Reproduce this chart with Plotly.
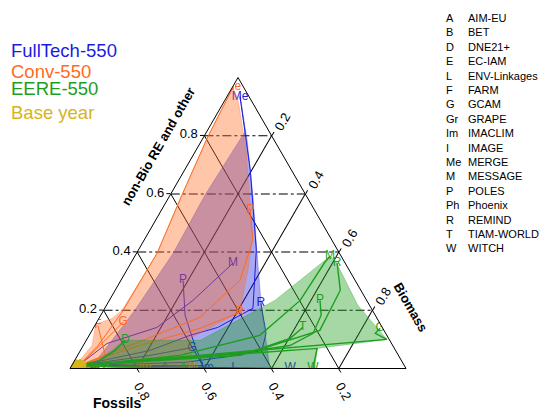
import plotly.graph_objects as go

W_PX, H_PX = 541, 413

BLUE = "#1c1ce0"
ORANGE = "#ff6a1f"
GREEN = "#1e9e1e"
YELLOW = "#d8b41c"

FONT = "Liberation Sans, Arial, sans-serif"

# ---------------------------------------------------------------------------
# Primary energy shares along each pathway: (non-Bio RE and other, biomass);
# the fossil share is the remainder.
# ---------------------------------------------------------------------------
fulltech_paths = {
    "Me": ([0.01, 0.062, 0.114, 0.141, 0.207, 0.407, 0.683, 0.934],
           [0.02, 0.207, 0.300, 0.369, 0.441, 0.351, 0.195, 0.039]),
    "M": ([0.01, 0.086, 0.141, 0.234, 0.362],
          [0.02, 0.067, 0.188, 0.249, 0.304]),
    "P": ([0.01, 0.010, 0.079, 0.183, 0.303],
          [0.02, 0.391, 0.332, 0.251, 0.185]),
    "R": ([0.01, 0.021, 0.041, 0.062, 0.121, 0.224],
          [0.02, 0.332, 0.450, 0.540, 0.523, 0.456]),
    "G": ([0.01, 0.045, 0.072], [0.02, 0.216, 0.327]),
    "D": ([0.01, 0.0], [0.02, 0.092]),
    "A": ([0.01, 0.0], [0.02, 0.283]),
    "Im": ([0.01, 0.0], [0.02, 0.408]),
    "I": ([0.01, 0.0], [0.02, 0.485]),
    "W": ([0.01, 0.0], [0.02, 0.655]),
}
fulltech_area_nonbio = [0.005, 0.034, 0.141, 0.200, 0.397, 0.597, 0.814, 0.938,
                        0.786, 0.593, 0.390, 0.234, 0.121, 0.0]
fulltech_area_biomass = [0.010, 0.066, 0.084, 0.093, 0.109, 0.104, 0.114, 0.037,
                         0.134, 0.248, 0.362, 0.451, 0.520, 0.595]

conv_paths = {
    "Me": ([0.01, 0.079, 0.193, 0.397, 0.597, 0.797, 0.966],
           [0.02, 0.044, 0.058, 0.061, 0.035, 0.012, 0.002]),
    "G": ([0.01, 0.062, 0.159], [0.02, 0.043, 0.079]),
    "F": ([0.01, 0.007, 0.079, 0.148], [0.02, 0.110, 0.058, 0.009]),
    "P": ([0.01, 0.097, 0.176, 0.303, 0.441, 0.545],
          [0.02, 0.169, 0.299, 0.354, 0.324, 0.264]),
    "R": ([0.01, 0.079, 0.138, 0.193], [0.02, 0.168, 0.318, 0.409]),
    "D": ([0.01, 0.0], [0.02, 0.060]),
    "Im": ([0.01, 0.0], [0.02, 0.223]),
    "W": ([0.01, 0.0], [0.02, 0.366]),
}
conv_area_nonbio = [0.005, 0.079, 0.152, 0.172, 0.200, 0.397, 0.597, 0.797, 0.966,
                    0.924, 0.752, 0.545, 0.441, 0.338, 0.252, 0.193, 0.103, 0.0]
conv_area_biomass = [0.010, 0.026, 0.001, 0.039, 0.055, 0.061, 0.035, 0.012, 0.002,
                     0.038, 0.148, 0.264, 0.321, 0.361, 0.389, 0.409, 0.305, 0.366]

eere_paths = {
    "D": ([0.01, 0.028, 0.062, 0.097], [0.02, 0.075, 0.103, 0.116]),
    "M": ([0.01, 0.045, 0.114, 0.234, 0.366, 0.386],
          [0.02, 0.305, 0.508, 0.568, 0.576, 0.581]),
    "R": ([0.01, 0.055, 0.131, 0.269, 0.362],
          [0.02, 0.508, 0.678, 0.670, 0.614]),
    "P": ([0.01, 0.045, 0.079, 0.121, 0.183, 0.234],
          [0.02, 0.424, 0.615, 0.663, 0.656, 0.627]),
    "T": ([0.01, 0.045, 0.103, 0.141], [0.02, 0.484, 0.603, 0.622]),
    "G": ([0.01, 0.100, 0.121, 0.138], [0.02, 0.893, 0.848, 0.854]),
    "A": ([0.01, 0.0], [0.02, 0.336]),
    "W": ([0.01, 0.069, 0.0], [0.02, 0.701, 0.723]),
}
eere_area_nonbio = [0.005, 0.021, 0.062, 0.097, 0.097, 0.234, 0.386, 0.366,
                    0.217, 0.100, 0.069, 0.0]
eere_area_biomass = [0.010, 0.064, 0.094, 0.113, 0.339, 0.493, 0.581, 0.609,
                     0.748, 0.893, 0.701, 0.729]

base_codes = ["A", "B", "D", "E", "L", "F", "G", "Gr", "Im", "I", "Me", "M",
              "P", "Ph", "R", "T", "W"]
base_nonbio = [0.008, 0.010, 0.012, 0.009, 0.011, 0.010, 0.013, 0.008, 0.010,
               0.012, 0.009, 0.011, 0.010, 0.012, 0.009, 0.010, 0.011]
base_biomass = [0.018, 0.022, 0.020, 0.025, 0.017, 0.021, 0.019, 0.023, 0.020,
                0.024, 0.018, 0.022, 0.021, 0.019, 0.023, 0.020, 0.022]

model_codes = ["A", "B", "D", "E", "L", "F", "G", "Gr", "Im", "I", "Me", "M",
               "P", "Ph", "R", "T", "W"]
model_names = ["AIM-EU", "BET", "DNE21+", "EC-IAM", "ENV-Linkages", "FARM",
               "GCAM", "GRAPE", "IMACLIM", "IMAGE", "MERGE", "MESSAGE",
               "POLES", "Phoenix", "REMIND", "TIAM-WORLD", "WITCH"]

scenarios = [
    ("FullTech-550", BLUE, "rgba(28,28,224,0.38)", fulltech_paths,
     fulltech_area_nonbio, fulltech_area_biomass, 1.0),
    ("Conv-550", ORANGE, "rgba(255,106,31,0.38)", conv_paths,
     conv_area_nonbio, conv_area_biomass, 1.0),
    ("EERE-550", GREEN, "rgba(30,158,30,0.40)", eere_paths,
     eere_area_nonbio, eere_area_biomass, 1.4),
]


def fossil(nonbio, biomass):
    return [1.0 - a - c for a, c in zip(nonbio, biomass)]


fig = go.Figure()

for name, color, fill, paths, area_a, area_c, lw in scenarios:
    # range covered by the scenario
    fig.add_trace(go.Scatterternary(
        a=area_a, b=fossil(area_a, area_c), c=area_c,
        mode="lines", fill="toself", fillcolor=fill,
        line=dict(color=fill, width=0.8),
        hoverinfo="skip", showlegend=False))
    # model pathways
    for code, (pa, pc) in paths.items():
        fig.add_trace(go.Scatterternary(
            a=pa, b=fossil(pa, pc), c=pc, mode="lines",
            line=dict(color=color, width=lw),
            name=f"{name} {code}", hoverinfo="skip", showlegend=False))
    # model code at the end of each pathway
    codes = list(paths.keys())
    end_a = [paths[k][0][-1] for k in codes]
    end_c = [paths[k][1][-1] for k in codes]
    fig.add_trace(go.Scatterternary(
        a=end_a, b=fossil(end_a, end_c), c=end_c, mode="text",
        text=codes, textposition="middle center",
        textfont=dict(color=color, size=12, family=FONT),
        hoverinfo="skip", showlegend=False))

# base-year points, labelled just left of each point
fig.add_trace(go.Scatterternary(
    a=base_nonbio, b=fossil(base_nonbio, base_biomass), c=base_biomass,
    mode="text", text=[f"<b>{c}</b>" for c in base_codes],
    textposition=["middle left", "middle center"] * 8 + ["middle left"],
    textfont=dict(color=YELLOW, size=13, family=FONT),
    hoverinfo="skip", showlegend=False))

# triangle: left vertex (70,368), right (406,368), apex (238,77)
tri_w = 336.0
tri_h = tri_w * 3 ** 0.5 / 2
cx, bottom = 238.0, 368.5
dom_x = [(cx - tri_w / 2) / W_PX, (cx + tri_w / 2) / W_PX]
dom_y = [1 - bottom / H_PX, 1 - (bottom - tri_h) / H_PX]

tick_vals = [0.2, 0.4, 0.6, 0.8]
tick_text = ["0.2", "0.4", "0.6", "0.8"]


def axis(dash, angle):
    return dict(
        title=dict(text=""), tickmode="array", tickvals=tick_vals,
        ticktext=tick_text, ticks="outside", ticklen=4, tickcolor="black",
        tickangle=angle,
        tickfont=dict(size=13, color="black", family=FONT),
        showgrid=True, gridcolor="black", gridwidth=0.8, griddash=dash,
        showline=True, linecolor="black", linewidth=1, layer="above traces")


fig.update_layout(
    width=W_PX, height=H_PX,
    margin=dict(l=0, r=0, t=0, b=0),
    paper_bgcolor="white",
    ternary=dict(
        sum=1, bgcolor="rgba(0,0,0,0)",
        domain=dict(x=dom_x, y=dom_y),
        aaxis=axis("dashdot", 0),
        baxis=axis("solid", 60),
        caxis=axis("solid", -60),
    ),
)


def px(x):
    return x / W_PX


def py(y):
    return 1 - y / H_PX


annotations = []
# scenario key
for text, color, y in [("FullTech-550", BLUE, 51), ("Conv-550", ORANGE, 71),
                       ("EERE-550", GREEN, 88), ("Base year", YELLOW, 113)]:
    annotations.append(dict(x=px(9), y=py(y), xref="paper", yref="paper",
                            xanchor="left", yanchor="middle", showarrow=False,
                            text=text, font=dict(size=18.5, color=color, family=FONT)))

# model code list
for i, (code, mname) in enumerate(zip(model_codes, model_names)):
    y = 18 + i * 14.4
    annotations.append(dict(x=px(444), y=py(y), xref="paper", yref="paper",
                            xanchor="left", yanchor="middle", showarrow=False,
                            text=code, font=dict(size=11, color="black", family=FONT)))
    annotations.append(dict(x=px(466), y=py(y), xref="paper", yref="paper",
                            xanchor="left", yanchor="middle", showarrow=False,
                            text=mname, font=dict(size=11, color="black", family=FONT)))

# axis titles
annotations.append(dict(x=px(158), y=py(146), xref="paper", yref="paper",
                        xanchor="center", yanchor="middle",
                        showarrow=False, textangle=-60,
                        text="<b>non-Bio RE and other</b>",
                        font=dict(size=13, color="black", family=FONT)))
annotations.append(dict(x=px(411), y=py(307), xref="paper", yref="paper",
                        xanchor="center", yanchor="middle",
                        showarrow=False, textangle=60, text="<b>Biomass</b>",
                        font=dict(size=13, color="black", family=FONT)))
annotations.append(dict(x=px(117), y=py(403), xref="paper", yref="paper",
                        xanchor="center", yanchor="middle",
                        showarrow=False, text="<b>Fossils</b>",
                        font=dict(size=14, color="black", family=FONT)))

fig.update_layout(annotations=annotations)

fig.write_html("out.html")
